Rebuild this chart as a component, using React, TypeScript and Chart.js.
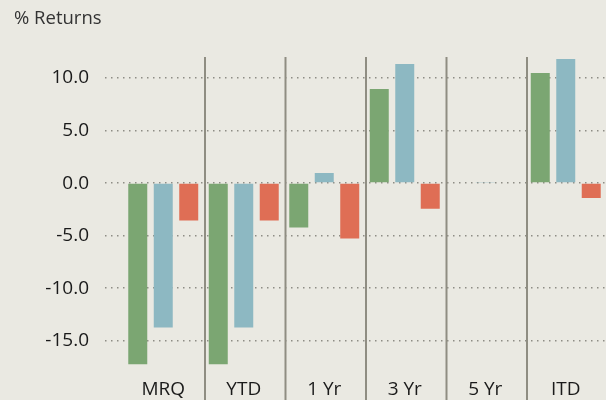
import React, { useEffect, useRef } from "react";
import { Chart, registerables } from "chart.js";

Chart.register(...registerables);

const categories = ["MRQ", "YTD", "1 Yr", "3 Yr", "5 Yr", "ITD"];
const seriesGreen = [-17.25, -17.25, -4.23, 8.95, null, 10.47];
const seriesBlue = [-13.74, -13.74, 0.97, 11.33, 0.1, 11.8];
const seriesRed = [-3.56, -3.56, -5.27, -2.45, null, -1.41];
const yTickValues = [-15, -10, -5, 0, 5, 10];
const titleText = "% Returns";

const BG = "#EAE9E2";
const GRID = "#8E8D85";

const bgPlugin = {
  id: "bgFill",
  beforeDraw(chart: any) {
    const { ctx, width, height } = chart;
    ctx.save();
    ctx.fillStyle = BG;
    ctx.fillRect(0, 0, width, height);
    ctx.restore();
  },
};

const separatorPlugin = {
  id: "separators",
  afterDatasetsDraw(chart: any) {
    const { ctx, scales, height } = chart;
    const x = scales.x;
    const top = chart.chartArea.top;
    ctx.save();
    ctx.strokeStyle = "#8F8D82";
    ctx.lineWidth = 2;
    for (let i = 0; i < categories.length - 1; i++) {
      const px = (x.getPixelForValue(i) + x.getPixelForValue(i + 1)) / 2 + 1.5;
      ctx.beginPath();
      ctx.moveTo(px, top);
      ctx.lineTo(px, height);
      ctx.stroke();
    }
    ctx.restore();
  },
};

export default function App() {
  const ref = useRef<HTMLCanvasElement | null>(null);
  useEffect(() => {
    if (!ref.current) return;
    const chart = new Chart(ref.current, {
      type: "bar",
      data: {
        labels: categories,
        datasets: [
          { label: "A", data: seriesGreen, backgroundColor: "#7BA672" },
          { label: "B", data: seriesBlue, backgroundColor: "#8DB8C2" },
          { label: "C", data: seriesRed, backgroundColor: "#DF6E55" },
        ],
      },
      options: {
        responsive: false,
        animation: false,
        datasets: {
          bar: { categoryPercentage: 0.95, barPercentage: 0.745 },
        },
        layout: { padding: { left: 14, right: 0, top: 0, bottom: 0 } },
        plugins: {
          legend: { display: false },
          tooltip: { enabled: false },
          title: {
            display: true,
            text: titleText,
            align: "start",
            color: "#333333",
            font: { family: "'Open Sans'", size: 18.5, weight: "normal" },
            padding: { top: 7.4, bottom: 27.4 },
          },
        },
        scales: {
          x: {
            grid: { display: false, drawTicks: false },
            border: { display: false },
            afterFit: (scale: any) => {
              scale.height = 24.6;
            },
            ticks: {
              color: "#1A1A1A",
              font: { family: "'Open Sans'", size: 19 },
              padding: 3,
            },
          },
          y: {
            min: -18.3,
            max: 12,
            afterBuildTicks: (scale: any) => {
              scale.ticks = yTickValues.map((v) => ({ value: v }));
            },
            afterFit: (scale: any) => {
              scale.width = 109;
              scale.paddingTop = 0;
              scale.paddingBottom = 0;
            },
            grid: {
              color: GRID,
              lineWidth: 1.5,
              tickLength: 18,
              tickColor: GRID,
              tickWidth: 1.5,
              tickBorderDash: [1.5, 4.5],
            },
            border: { display: false, dash: [1.5, 4.5] },
            ticks: {
              color: "#1A1A1A",
              font: { family: "'Open Sans'", size: 19 },
              padding: 16,
              callback: (v: any) => Number(v).toFixed(1),
            },
          },
        },
      },
      plugins: [bgPlugin, separatorPlugin],
    } as any);
    return () => chart.destroy();
  }, []);
  return (
    <div style={{ position: "absolute", left: 0, top: 0, width: 606, height: 400, background: BG }}>
      <canvas ref={ref} width={606} height={400} style={{ display: "block" }} />
    </div>
  );
}
